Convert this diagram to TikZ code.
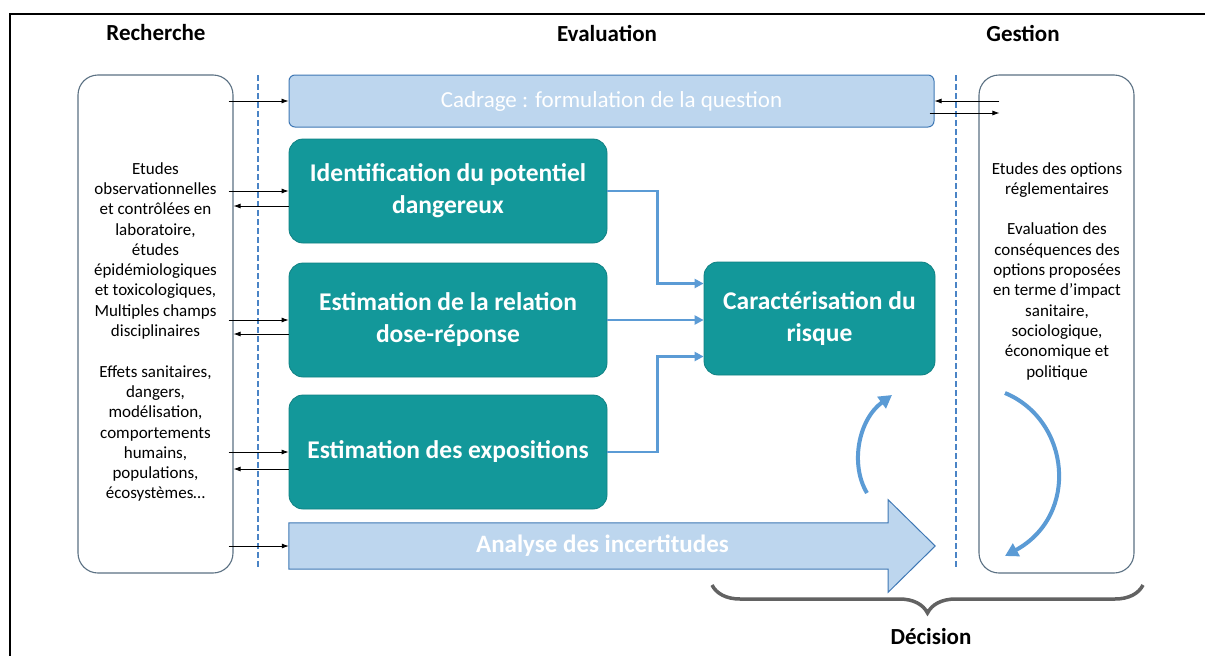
\documentclass[tikz,border=0pt]{standalone}
\usepackage{fontspec}
\setmainfont{Carlito}
\usetikzlibrary{arrows.meta,calc,decorations.pathreplacing}
\definecolor{tealc}{HTML}{13989A}
\definecolor{lbluefill}{HTML}{BDD6EE}
\definecolor{lbluedraw}{HTML}{3F78B5}
\definecolor{connc}{HTML}{5B9BD5}
\definecolor{dashc}{HTML}{4A84C6}
\definecolor{sideline}{HTML}{5B7183}
\definecolor{bracec}{HTML}{626262}
\begin{document}
\begin{tikzpicture}[x=1pt,y=-1pt,
  tealbox/.style={fill=tealc, draw=tealc!85!black, line width=0.8pt, rounded corners=14pt,
    text=white, font=\fontsize{25.5}{32}\selectfont\bfseries, align=center,
    minimum width=318pt, inner sep=0pt},
  lbox/.style={fill=lbluefill, draw=lbluedraw, line width=1pt},
  sidebox/.style={draw=sideline, line width=1.1pt, fill=white, rounded corners=20pt,
    minimum width=155pt, minimum height=498pt, inner sep=0pt},
  sidetext/.style={font=\fontsize{17}{20.3}\selectfont, align=center, inner sep=0pt},
  titletext/.style={font=\fontsize{23}{27}\selectfont\bfseries},
  dashline/.style={draw=dashc, line width=2.4pt, dash pattern=on 6pt off 3pt},
  blk/.style={draw=black, line width=0.8pt, -{Latex[length=7pt,width=5pt]}},
  conn/.style={draw=connc, line width=2.6pt, -{Triangle[length=9pt,width=9pt]}},
  bluecurve/.style={draw=connc, line width=4pt, -{Triangle[length=13pt,width=14pt]}},
  bracestyle/.style={draw=bracec, line width=3.5pt, decorate,
    decoration={brace, amplitude=28pt}}
]
\useasboundingbox (0,0) rectangle (1205,656);
\fill[white] (0,0) rectangle (1205,656);

% frame
\draw[line width=2.6pt] (10,656) -- (10,14) -- (1205,14);

% titles
\node[titletext] (trech) at (156,33) {Recherche};
\node[titletext] (teval) at (607,33) {Evaluation};
\node[titletext] (tgest) at (1023,33) {Gestion};

% side boxes
\node[sidebox] (leftbox) at (155.5,324) {};
\node[sidebox] (rightbox) at (1056.5,324) {};

\node[sidetext] (ltext) at (155.5,332) {Etudes\\observationnelles\\et contrôlées en\\laboratoire,\\études\\épidémiologiques\\et toxicologiques,\\Multiples champs\\disciplinaires\\[20.3pt]Effets sanitaires,\\dangers,\\modélisation,\\comportements\\humains,\\populations,\\écosystèmes…};
\node[sidetext] (rtext) at (1057,271) {Etudes des options\\réglementaires\\[20.3pt]Evaluation des\\conséquences des\\options proposées\\en terme d’impact\\sanitaire,\\sociologique,\\économique et\\politique};

% dashed separators
\coordinate (d1a) at (258,75); \coordinate (d1b) at (258,569);
\coordinate (d2a) at (956,75); \coordinate (d2b) at (956,569);
\draw[dashline] (d1a) -- (d1b);
\draw[dashline] (d2a) -- (d2b);

% cadrage
\node[lbox, rounded corners=6pt, minimum width=645pt, minimum height=52pt, inner sep=0pt,
  text=white, font=\fontsize{23}{27}\selectfont] (cadrage) at (611.5,101) {Cadrage : formulation de la question};

% teal boxes
\node[tealbox, minimum height=104pt] (ident) at (448,191) {Identification du potentiel\\dangereux};
\node[tealbox, minimum height=114pt] (relation) at (448,320) {Estimation de la relation\\dose-réponse};
\node[tealbox, minimum height=114pt] (expo) at (448,452) {Estimation des expositions};
\node[tealbox, minimum width=231pt, minimum height=113pt] (carac) at (819.5,318.5) {Caractérisation du\\risque};

% analyse arrow
\node[inner sep=0pt, minimum width=599pt, minimum height=46pt] (analyse) at (588.5,546) {};
\draw[lbox, line join=miter] (analyse.north west) -- (analyse.north east) -- ++(0,-23)
  -- ($(analyse.east)+(47,0)$) -- ($(analyse.south east)+(0,23)$) -- (analyse.south east)
  -- (analyse.south west) -- cycle;
\node[text=white, font=\fontsize{25}{29}\selectfont\bfseries] (analysetxt) at ([xshift=14pt]analyse.center) {Analyse des incertitudes};

% blue connectors to caractérisation
\draw[conn] (ident.east) -- ++(50,0) |- ([yshift=35pt]carac.west);
\draw[conn] (relation.east) -- (relation.east -| carac.west);
\draw[conn] (expo.east) -- ++(50,0) |- ([yshift=-38pt]carac.west);

% black arrows left
\draw[blk, shorten <=-5pt] (cadrage.west -| leftbox.east) -- (cadrage.west);
\draw[blk, shorten <=-5pt] (ident.west -| leftbox.east) -- (ident.west);
\draw[blk] ([yshift=-15pt]ident.west) -- ([yshift=-15pt]ident.west -| leftbox.east);
\draw[blk, shorten <=-5pt] (relation.west -| leftbox.east) -- (relation.west);
\draw[blk] ([yshift=-14pt]relation.west) -- ([yshift=-14pt]relation.west -| leftbox.east);
\draw[blk, shorten <=-5pt] (expo.west -| leftbox.east) -- (expo.west);
\draw[blk] ([yshift=-17pt]expo.west) -- ([yshift=-17pt]expo.west -| leftbox.east);
\draw[blk, shorten <=-5pt] (analyse.west -| leftbox.east) -- (analyse.west);

% black arrows right
\draw[blk] ([xshift=21pt]cadrage.east -| rightbox.west) -- (cadrage.east);
\draw[blk] ([xshift=-5pt,yshift=-12pt]cadrage.east) -- ([xshift=21pt,yshift=-12pt]cadrage.east -| rightbox.west);

% curved blue arrows
\coordinate (ua1) at (867,493); \coordinate (ua2) at (892,395);
\draw[bluecurve] (ua1) .. controls (850,465) and (858,420) .. (ua2);
\coordinate (ga1) at (1005,393); \coordinate (ga2) at (1005,556);
\draw[bluecurve] (ga1) .. controls (1070,420) and (1080,515) .. (ga2);

% brace and decision
\coordinate (br1) at (1143,585); \coordinate (br2) at (712,585);
\draw[bracestyle] (br1) -- (br2);
\node[titletext, font=\fontsize{23}{27}\selectfont\bfseries] (decision) at (931,637) {Décision};
\end{tikzpicture}
\end{document}
